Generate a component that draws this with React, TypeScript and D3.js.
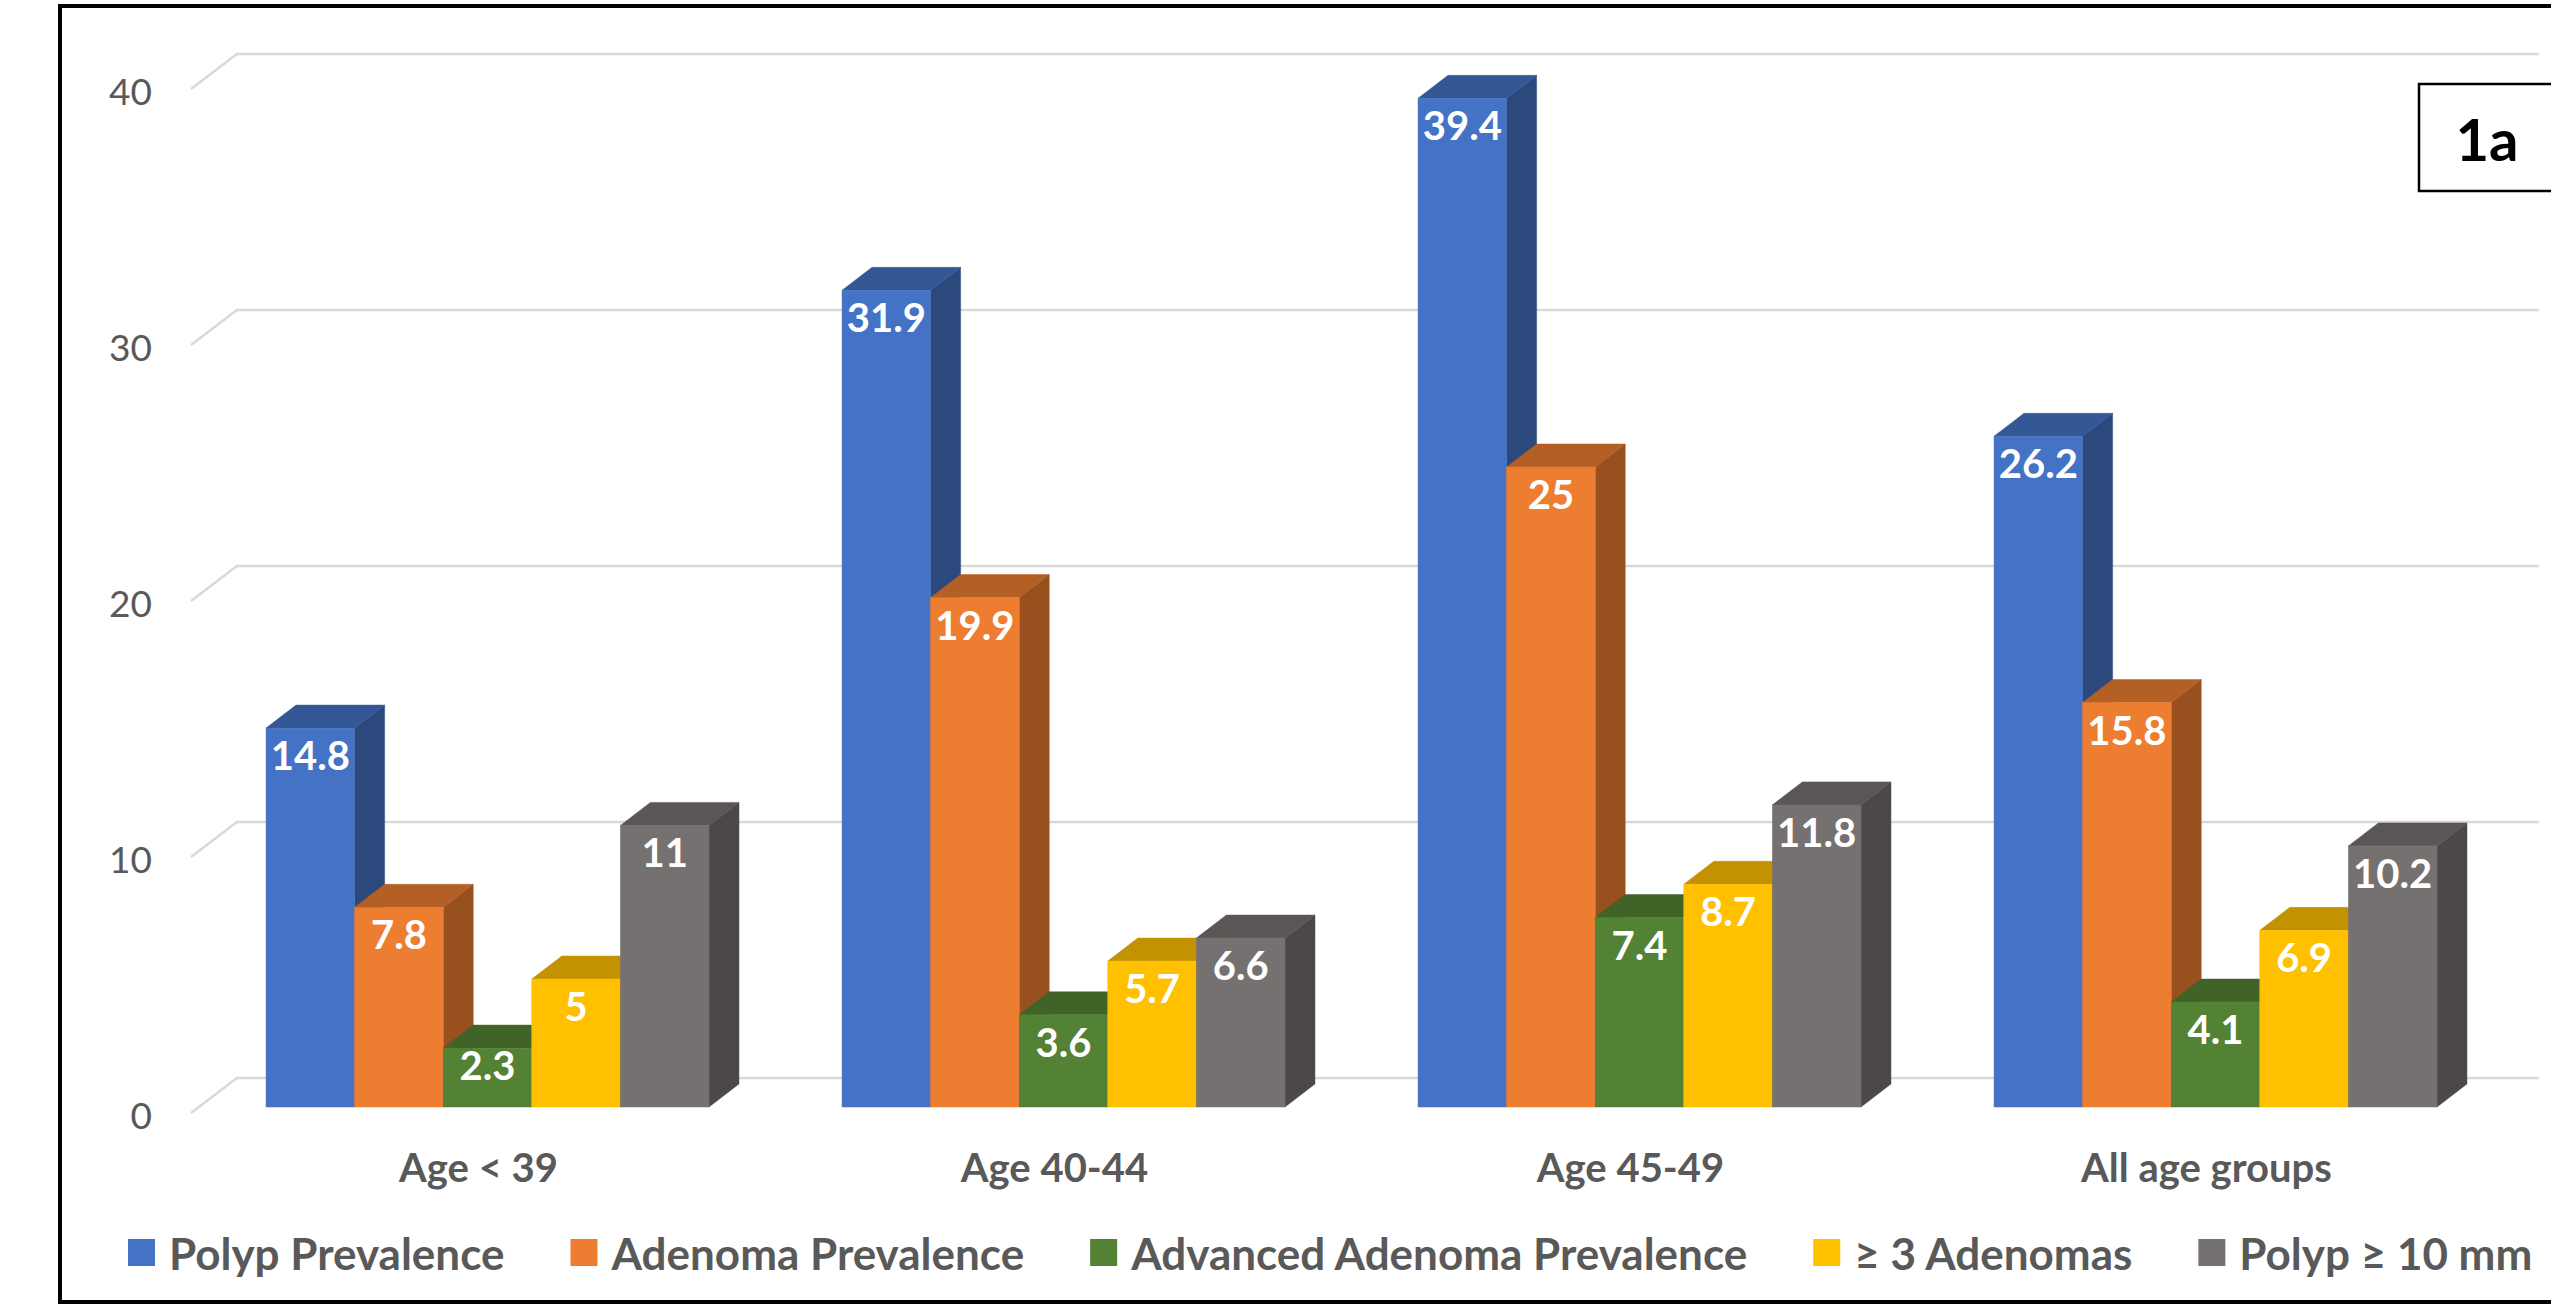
import React, { useRef, useEffect } from "react";
import * as d3 from "d3";

const categories = ["Age < 39", "Age 40-44", "Age 45-49", "All age groups"];
const seriesNames = [
  "Polyp Prevalence",
  "Adenoma Prevalence",
  "Advanced Adenoma Prevalence",
  "≥ 3 Adenomas",
  "Polyp ≥ 10 mm",
];
const polypPrevalence = [14.8, 31.9, 39.4, 26.2];
const adenomaPrevalence = [7.8, 19.9, 25, 15.8];
const advancedAdenoma = [2.3, 3.6, 7.4, 4.1];
const threePlusAdenomas = [5, 5.7, 8.7, 6.9];
const polyp10mm = [11, 6.6, 11.8, 10.2];
const yTicks = [0, 10, 20, 30, 40];
const seriesColors = ["#4472C4", "#ED7D31", "#548235", "#FFC000", "#767171"];

const seriesValues = [polypPrevalence, adenomaPrevalence, advancedAdenoma, threePlusAdenomas, polyp10mm];

const W = 2551;
const H = 1306;
const FONT = "Lato, 'Open Sans', sans-serif";

function shade(c: string, k: number) {
  const rgb = d3.rgb(c);
  return d3.rgb(rgb.r * k, rgb.g * k, rgb.b * k).formatHex();
}

export default function App() {
  const svgRef = useRef<SVGSVGElement>(null);

  useEffect(() => {
    if (!svgRef.current) return;
    const svg = d3.select(svgRef.current);
    svg.selectAll("*").remove();

    // back wall scale and 3D offsets
    const yBack = d3.scaleLinear().domain([0, 40]).range([1078, 54]);
    const frontDy = 29;
    const depthDx = 30;
    const depthDy = 23;

    const x0 = d3.scaleBand<string>()
      .domain(categories)
      .range([199.5, 2503.5])
      .paddingInner(0.231)
      .paddingOuter(0.1155);
    const x1 = d3.scaleBand<number>()
      .domain(d3.range(seriesNames.length))
      .range([0, x0.bandwidth()])
      .padding(0);

    // gridlines with side wall diagonal
    const grid = svg.append("g");
    yTicks.forEach(t => {
      const yb = yBack(t);
      grid.append("polyline")
        .attr("points", `191,${yb + 35} 237,${yb} 2539,${yb}`)
        .attr("fill", "none")
        .attr("stroke", "#D9D9D9")
        .attr("stroke-width", 2.5);
      grid.append("text")
        .attr("x", 152)
        .attr("y", yb + 36)
        .attr("text-anchor", "end")
        .attr("dominant-baseline", "central")
        .attr("fill", "#595959")
        .style("font-family", FONT)
        .style("font-size", "37px")
        .text(t);
    });

    // bars
    const bars = svg.append("g");
    const labels = svg.append("g");
    const yBase = yBack(0) + frontDy;
    const w = x1.bandwidth();

    categories.forEach((cat, ci) => {
      seriesValues.forEach((vals, si) => {
        const v = vals[ci];
        const x = (x0(cat) || 0) + (x1(si) || 0);
        const yTop = yBack(v) + frontDy;
        const col = seriesColors[si];
        const g = bars.append("g");
        g.append("polygon")
          .attr("points", `${x + w},${yTop} ${x + w + depthDx},${yTop - depthDy} ${x + w + depthDx},${yBase - depthDy} ${x + w},${yBase}`)
          .attr("fill", shade(col, 0.64))
          .attr("stroke", shade(col, 0.64))
          .attr("stroke-width", 0.5);
        g.append("polygon")
          .attr("points", `${x},${yTop} ${x + w},${yTop} ${x + w + depthDx},${yTop - depthDy} ${x + depthDx},${yTop - depthDy}`)
          .attr("fill", shade(col, 0.76))
          .attr("stroke", shade(col, 0.76))
          .attr("stroke-width", 0.5);
        g.append("rect")
          .attr("x", x)
          .attr("y", yTop)
          .attr("width", w)
          .attr("height", yBase - yTop)
          .attr("fill", col)
          .attr("stroke", col)
          .attr("stroke-width", 0.5);

        labels.append("text")
          .attr("x", x + w / 2)
          .attr("y", Math.min(yTop + 27, yBase - 42))
          .attr("text-anchor", "middle")
          .attr("dominant-baseline", "central")
          .attr("fill", "#FFFFFF")
          .style("font-family", FONT)
          .style("font-weight", "bold")
          .style("font-size", "40px")
          .text(String(v));
      });

      svg.append("text")
        .attr("x", (x0(cat) || 0) + x0.bandwidth() / 2 - 9)
        .attr("y", 1167)
        .attr("text-anchor", "middle")
        .attr("dominant-baseline", "central")
        .attr("fill", "#595959")
        .style("font-family", FONT)
        .style("font-weight", "bold")
        .style("font-size", "40px")
        .text(cat);
    });

    // legend
    const legend = svg.append("g");
    let lx = 128;
    seriesNames.forEach((name, i) => {
      legend.append("rect")
        .attr("x", lx)
        .attr("y", 1239)
        .attr("width", 27)
        .attr("height", 27)
        .attr("fill", seriesColors[i]);
      const txt = legend.append("text")
        .attr("x", lx + 41)
        .attr("y", 1253)
        .attr("dominant-baseline", "central")
        .attr("fill", "#595959")
        .style("font-family", FONT)
        .style("font-weight", "bold")
        .style("font-size", "44px")
        .text(name);
      const tw = (txt.node() as SVGTextElement).getComputedTextLength();
      lx = lx + 41 + tw + 66;
    });

    // "1a" box
    svg.append("rect")
      .attr("x", 2419)
      .attr("y", 84)
      .attr("width", 200)
      .attr("height", 107)
      .attr("fill", "#FFFFFF")
      .attr("stroke", "#000000")
      .attr("stroke-width", 2.5);
    svg.append("text")
      .attr("x", 2487)
      .attr("y", 138)
      .attr("text-anchor", "middle")
      .attr("dominant-baseline", "central")
      .attr("fill", "#000000")
      .style("font-family", FONT)
      .style("font-weight", "bold")
      .style("font-size", "58px")
      .text("1a");

    // outer frame
    svg.append("rect")
      .attr("x", 60)
      .attr("y", 6)
      .attr("width", 2600)
      .attr("height", 1296)
      .attr("fill", "none")
      .attr("stroke", "#000000")
      .attr("stroke-width", 4);
  }, []);

  return (
    <svg
      ref={svgRef}
      width={W}
      height={H}
      style={{ position: "absolute", left: 0, top: 0, background: "#FFFFFF" }}
    />
  );
}
